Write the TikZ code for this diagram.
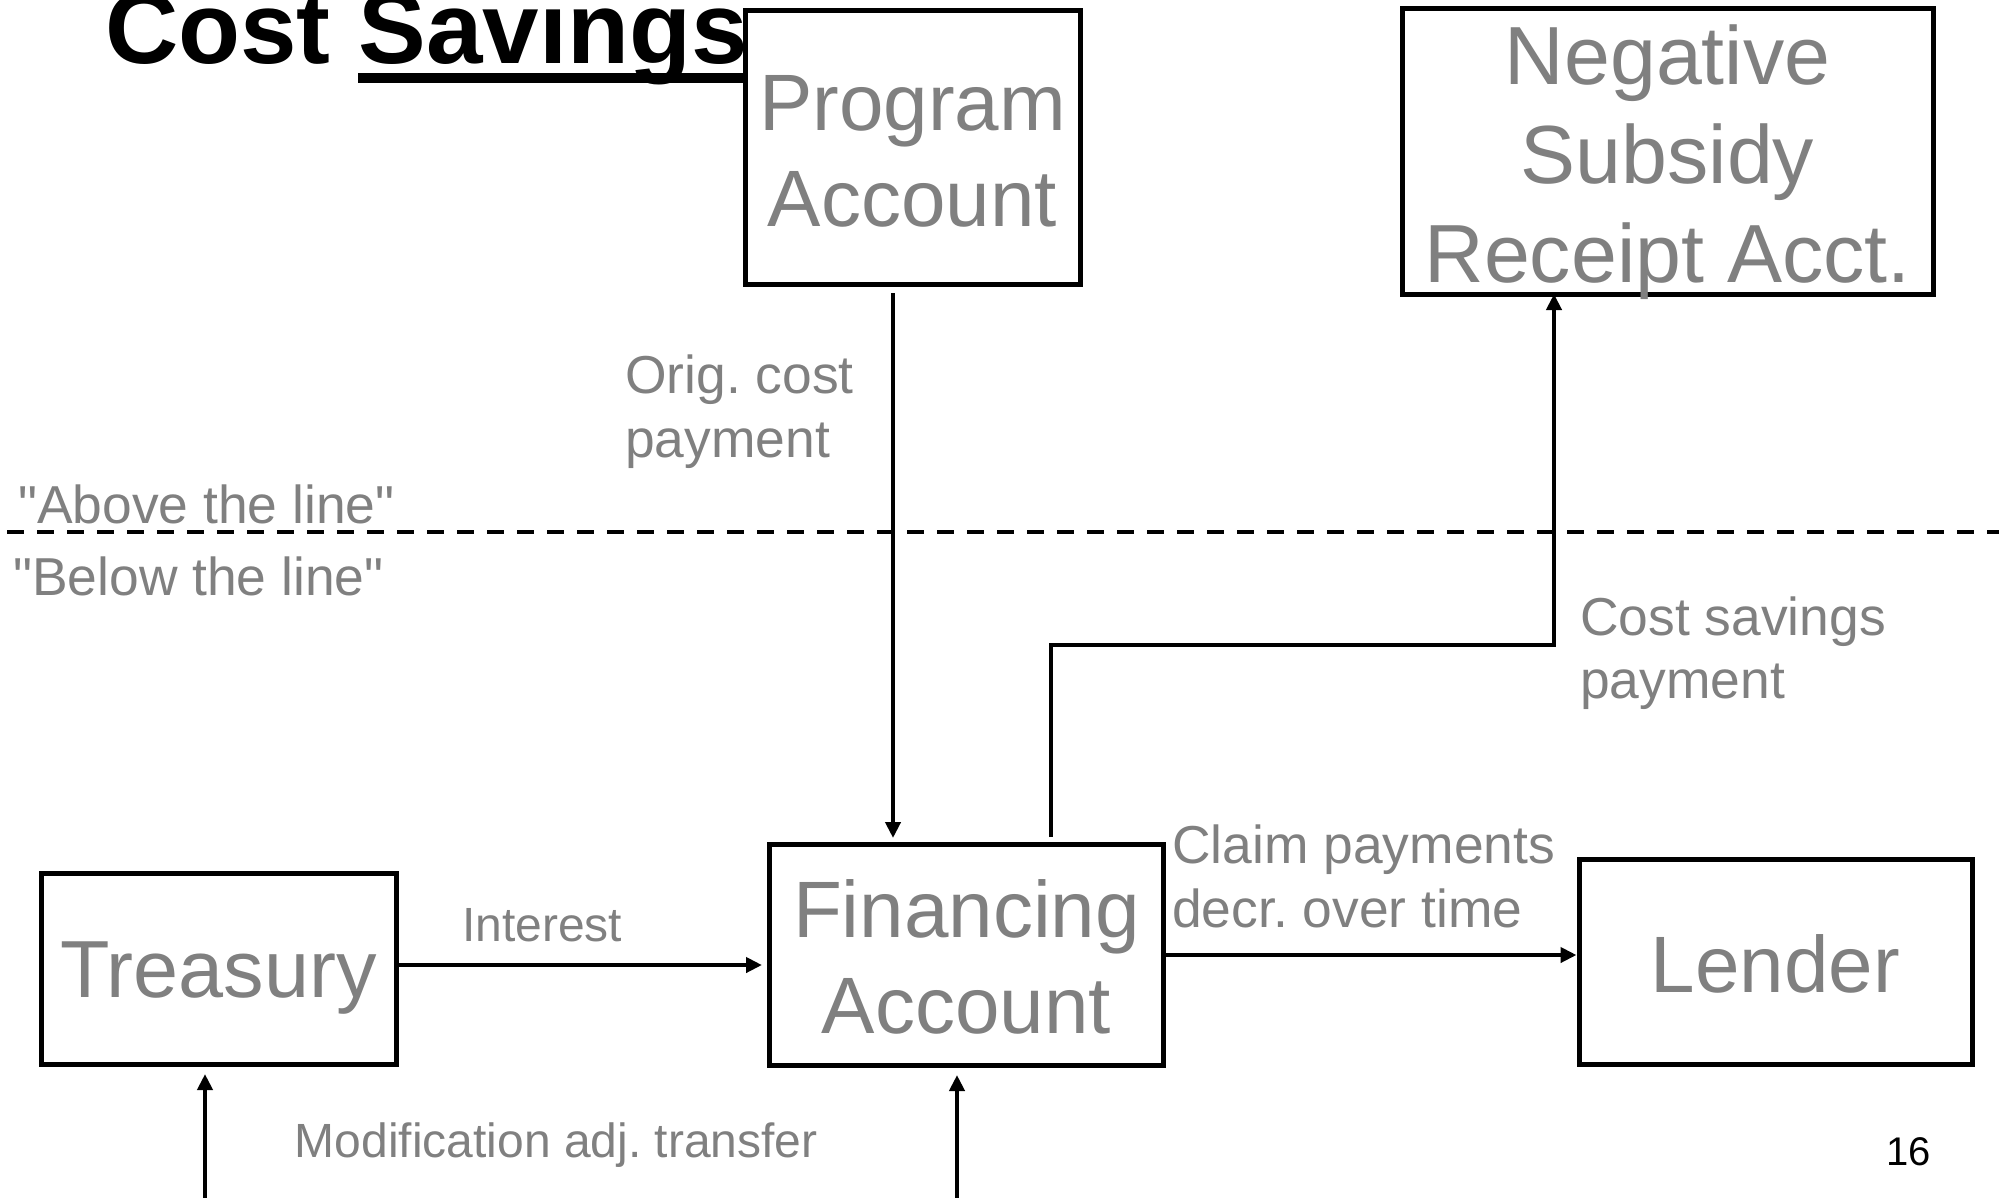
\documentclass[tikz,border=0pt]{standalone}
\usepackage{fontspec}
\setmainfont{Liberation Sans}
\newfontfamily\qfont{Liberation Sans}
\usetikzlibrary{arrows.meta}
\definecolor{txtgrey}{RGB}{128,128,128}
\begin{document}
\frenchspacing
\begin{tikzpicture}[x=1pt,y=-1pt,
  box/.style={draw=black, line width=5pt, inner sep=0pt},
  bt/.style={text=txtgrey, font=\fontsize{80}{96}\selectfont, inner sep=0pt, anchor=base},
  btneg/.style={text=txtgrey, font=\fontsize{82.5}{99}\selectfont, inner sep=0pt, anchor=base},
  lab/.style={text=txtgrey, font=\qfont\fontsize{53.4}{64}\selectfont, inner sep=0pt, anchor=base west},
  labs/.style={text=txtgrey, font=\qfont\fontsize{48}{58}\selectfont, inner sep=0pt, anchor=base west},
  conn/.style={draw=black, line width=4.2pt, -{Triangle[length=16pt,width=15pt]}}]
\useasboundingbox (0,0) rectangle (1999,1197);
\fill[white] (0,0) rectangle (1999,1197);

% title
\node[anchor=base west, inner sep=0pt, font=\fontsize{101.5}{120}\selectfont\bfseries] (title) at (105,63) {Cost Savings};
\fill[black] (358,73) rectangle (747,83);

% boxes
\node[box, minimum width=335pt, minimum height=274pt] (prog) at (912.5,147.5) {};
\node[box, minimum width=531pt, minimum height=286pt] (neg) at (1667.5,151.5) {};
\node[box, minimum width=394pt, minimum height=221pt] (fin) at (966.5,955) {};
\node[box, minimum width=355pt, minimum height=191pt] (trea) at (218.5,969) {};
\node[box, minimum width=393pt, minimum height=205pt] (lend) at (1775.5,962) {};

% box texts
\node[bt] (progA) at (912.5,130) {Program};
\node[bt] (progB) at (912.5,226) {Account};
\node[btneg] (negA) at (1667.5,84) {Negative};
\node[btneg] (negB) at (1667.5,183) {Subsidy};
\node[btneg] (negC) at (1667.5,282) {Receipt Acct.};
\node[bt] (finA) at (966.5,937) {Financing};
\node[bt] (finB) at (966.5,1033) {Account};
\node[bt, font=\fontsize{81}{96}\selectfont] (treaA) at (218.5,997) {Treasury};
\node[bt] (lendA) at (1775.5,992) {Lender};

% dashed line
\coordinate (dl) at (7,532);
\coordinate (dr) at (2005,532);
\draw[line width=4.3pt, dash pattern=on 17pt off 13pt] (dl) -- (dr);

% labels
\node[lab] (origA) at (625,393) {Orig. cost};
\node[lab] (origB) at (625,457) {payment};
\node[lab] (above) at (18,523) {"Above the line"};
\node[lab] (below) at (13,595) {"Below the line"};
\node[lab] (csA) at (1580,635) {Cost savings};
\node[lab] (csB) at (1580,698) {payment};
\node[lab] (clA) at (1172,863) {Claim payments};
\node[lab] (clB) at (1172,927) {decr. over time};
\node[labs] (intr) at (462,941) {Interest};
\node[labs] (modif) at (294.5,1157) {Modification adj. transfer};
\node[anchor=base west, inner sep=0pt, font=\fontsize{40}{48}\selectfont] (pgno) at (1886,1165) {16};

% connectors
\coordinate (cx1) at (893,0);
\coordinate (cx2) at (1051,0);
\coordinate (cx3) at (1554,0);
\coordinate (cy) at (0,645);
\coordinate (cyI) at (0,965);
\coordinate (b1) at (205,1205);
\coordinate (b2) at (957,1205);

\draw[conn, shorten <=6pt, shorten >=4pt] (prog.south -| cx1) -- (fin.north -| cx1);
\draw[conn, shorten <=5pt, shorten >=-3pt] (fin.north -| cx2) -- (cx2 |- cy) -- (cx3 |- cy) -- (neg.south -| cx3);
\draw[conn, shorten >=5pt] (trea.east |- cyI) -- (fin.west |- cyI);
\draw[conn] (fin.east) -- (lend.west |- fin.east);
\draw[conn, shorten >=7pt] (b1) -- (trea.south -| b1);
\draw[conn, shorten >=7pt] (b2) -- (fin.south -| b2);
\end{tikzpicture}
\end{document}
